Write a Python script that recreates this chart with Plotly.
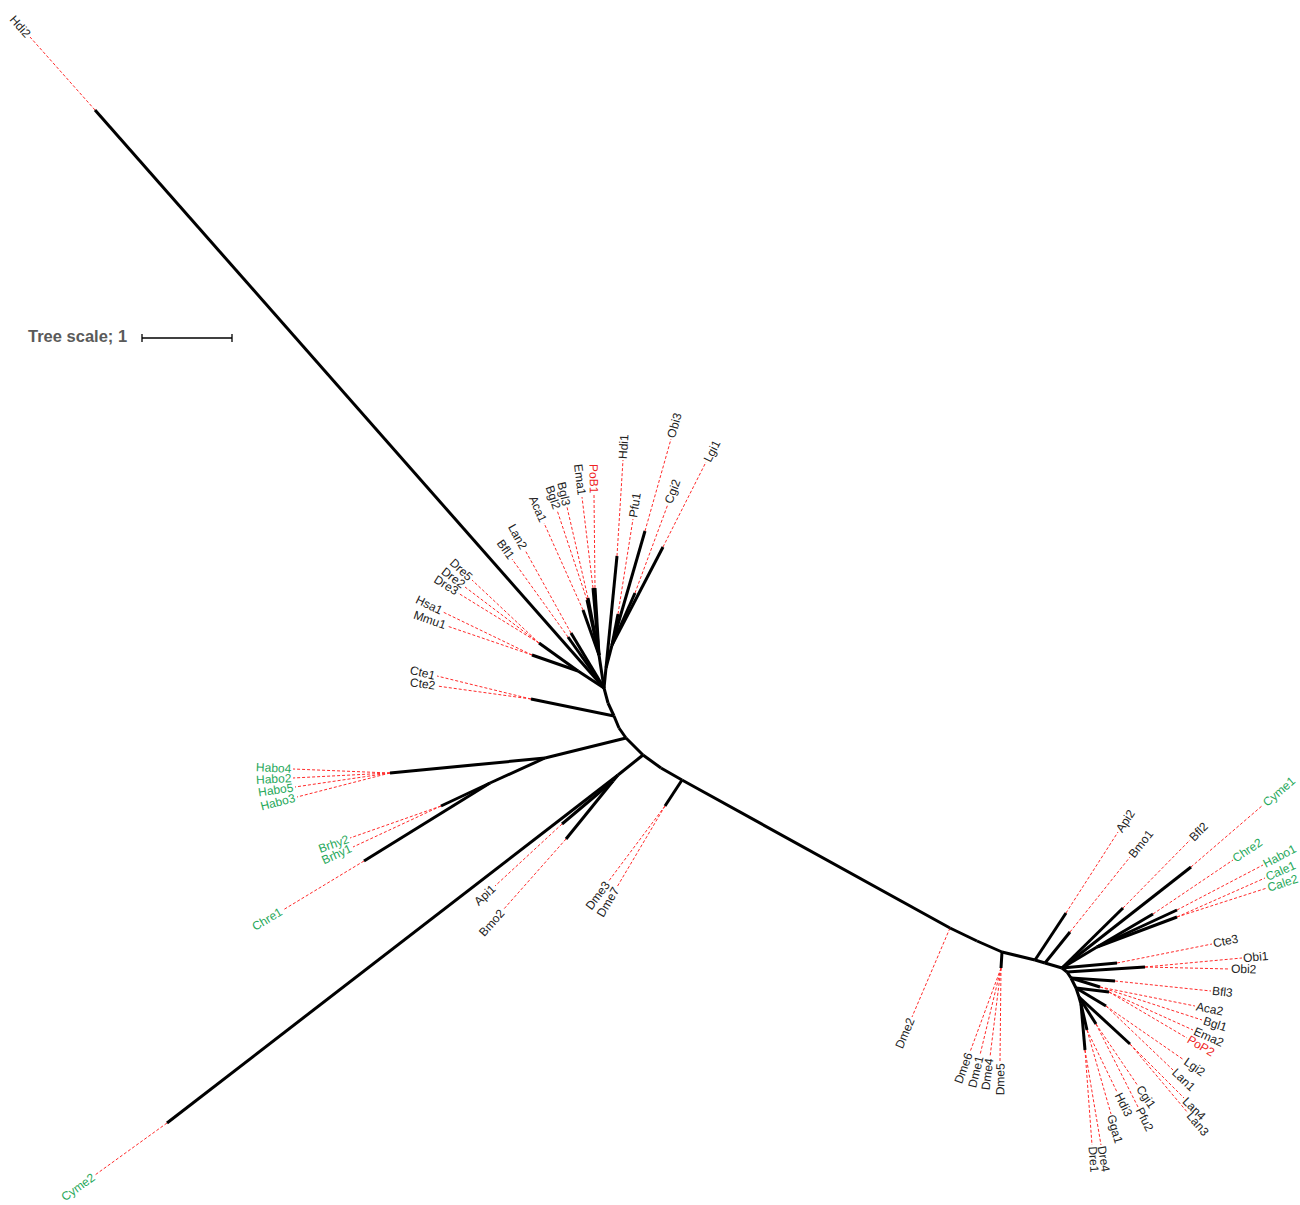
import math
import plotly.graph_objects as go

# ---------------- data (layout units; tree scale: 1 substitution/site = 90 units) -------------
scale_value = 1
scale_units = 90

# internal nodes
node_names = ["U", "B0a", "B1", "B1a", "B2", "B3", "B3a", "B4", "B5", "B5a", "B6",
              "R1", "R2", "R3", "R3b", "R4", "R5", "R6", "R7",
              "UR", "URa", "ULa", "D", "DreN", "HMN", "CteN",
              "L", "HaboN", "LB", "BrhyN", "C1", "C2", "DmeA", "DmeB",
              "RCa", "CaleN", "Obi", "AB", "EP", "LL", "L34", "CP", "HG", "AC"]
node_x = [604, 608, 614, 619, 626, 643, 661, 682, 950, 977, 1002,
          1035, 1045, 1062, 1067, 1071, 1076, 1079, 1081,
          606, 612, 599, 578, 539, 532, 531,
          545, 390, 490, 441, 618, 613, 665, 1001,
          1097, 1177, 1145, 1109, 1106, 1130, 1096, 1087, 1085, 1100]
node_y = [688, 703, 716, 728, 738, 755, 768, 780, 928, 941, 952,
          960, 963, 968, 972, 978, 988, 997, 1004,
          668, 645, 655, 671, 643, 655, 699,
          758, 773, 783, 806, 775, 781, 806, 968,
          947, 917, 967, 992, 1006, 1044, 1024, 1030, 1050, 987]
node_parent = [None, "U", "B0a", "B1", "B1a", "B2", "B3", "B3a", "B4", "B5", "B5a",
               "B6", "R1", "R2", "R3", "R3b", "R4", "R5", "R6",
               "U", "UR", "U", "U", "D", "D", "B1",
               "B2", "L", "L", "LB", "B3", "C1", "B4", "B6",
               "R3", "RCa", "R3b", "R5", "R5", "R6", "R6", "R7", "R7", "R4"]

# leaves
leaf_names = ["Hdi2", "Hdi1", "Pfu1", "Cgi2", "Obi3", "Lgi1",
              "Bfl1", "Lan2", "Aca1", "Bgl2", "Bgl3", "Ema1", "PoB1",
              "Dre5", "Dre2", "Dre3", "Hsa1", "Mmu1", "Cte1", "Cte2",
              "Habo4", "Habo2", "Habo5", "Habo3", "Brhy2", "Brhy1", "Chre1",
              "Cyme2", "Api1", "Bmo2", "Dme3", "Dme7", "Dme2",
              "Dme6", "Dme1", "Dme4", "Dme5",
              "Api2", "Bmo1", "Bfl2", "Cyme1", "Chre2", "Habo1", "Cale1", "Cale2",
              "Cte3", "Obi1", "Obi2", "Bfl3", "Aca2", "Bgl1", "Ema2", "PoP2",
              "Lgi2", "Lan1", "Lan4", "Lan3", "Cgi1", "Pfu2", "Hdi3", "Gga1", "Dre4", "Dre1"]
leaf_parent = ["U", "UR", "URa", "URa", "URa", "URa",
               "U", "U", "ULa", "ULa", "ULa", "ULa", "ULa",
               "DreN", "DreN", "DreN", "HMN", "HMN", "CteN", "CteN",
               "HaboN", "HaboN", "HaboN", "HaboN", "BrhyN", "BrhyN", "LB",
               "C1", "C2", "C2", "DmeA", "DmeA", "B5",
               "DmeB", "DmeB", "DmeB", "DmeB",
               "R1", "R2", "R3", "R3", "RCa", "RCa", "CaleN", "CaleN",
               "R3", "Obi", "Obi", "R4", "AC", "AC", "AB", "AB",
               "EP", "EP", "LL", "LL", "L34", "L34", "CP", "CP", "HG", "HG"]
# end of solid branch (None = zero length, at parent)
leaf_x = [95, 617, 618, 635, 645, 663,
          568, 571, 583, 587, 588, 593, 595,
          None, None, None, None, None, None, None,
          None, None, None, None, None, None, 364,
          167, 562, 566, None, None, None,
          None, None, None, None,
          1066, 1070, 1123, 1191, 1153, 1177, None, None,
          1117, None, None, 1115, None, None, None, None,
          None, None, None, None, None, None, None, None, None, None]
leaf_y = [110, 556, 614, 593, 531, 547,
          637, 633, 610, 600, 598, 588, 588,
          None, None, None, None, None, None, None,
          None, None, None, None, None, None, 861,
          1123, 824, 839, None, None, None,
          None, None, None, None,
          913, 932, 908, 867, 914, 910, None, None,
          963, None, None, 981, None, None, None, None,
          None, None, None, None, None, None, None, None, None, None]
# end of the dotted label connector
tip_x = [30, 623, 633, 668, 671, 706,
         512, 525, 544, 557, 567, 582, 594,
         472, 465, 458, 443, 447, 437, 437,
         293, 293, 295, 297, 350, 353, 283,
         95, 495, 503, 608, 617, 912,
         970, 980, 990, 1000,
         1118, 1130, 1190, 1263, 1233, 1263, 1265, 1267,
         1212, 1242, 1230, 1211, 1195, 1202, 1193, 1187,
         1184, 1173, 1184, 1188, 1138, 1138, 1117, 1111, 1101, 1092]
tip_y = [37, 460, 519, 504, 439, 462,
         559, 550, 523, 510, 507, 497, 495,
         580, 587, 593, 612, 626, 676, 686,
         769, 778, 787, 797, 838, 847, 910,
         1175, 886, 910, 882, 887, 1017,
         1052, 1055, 1057, 1062,
         832, 857, 840, 805, 860, 865, 878, 888,
         944, 958, 969, 991, 1006, 1020, 1030, 1038,
         1060, 1070, 1098, 1113, 1086, 1107, 1092, 1114, 1145, 1145]
green_leaves = ["Habo1", "Habo2", "Habo3", "Habo4", "Habo5", "Brhy1", "Brhy2",
                "Chre1", "Chre2", "Cyme1", "Cyme2", "Cale1", "Cale2"]
red_leaves = ["PoB1", "PoP2"]

# ---------------- build ----------------
pos = {n: (x, y) for n, x, y in zip(node_names, node_x, node_y)}

sx, sy = [], []
for n, p in zip(node_names, node_parent):
    if p is None:
        continue
    sx += [pos[p][0], pos[n][0], None]
    sy += [pos[p][1], pos[n][1], None]

dx, dy = [], []
leaf_end = []
for i, name in enumerate(leaf_names):
    px, py = pos[leaf_parent[i]]
    if leaf_x[i] is not None:
        ex, ey = leaf_x[i], leaf_y[i]
        sx += [px, ex, None]
        sy += [py, ey, None]
    else:
        ex, ey = px, py
    leaf_end.append((ex, ey))
    dx += [ex, tip_x[i], None]
    dy += [ey, tip_y[i], None]

W = {'A': 667, 'B': 667, 'C': 722, 'D': 722, 'E': 667, 'G': 778, 'H': 722, 'L': 556,
     'M': 833, 'O': 778, 'P': 667, 'a': 556, 'b': 556, 'c': 500, 'd': 556, 'e': 556,
     'f': 278, 'g': 556, 'h': 556, 'i': 222, 'l': 222, 'm': 833, 'n': 556, 'o': 556,
     'p': 556, 'r': 333, 's': 500, 't': 278, 'u': 556, 'y': 500}
FS = 12


def text_w(s):
    return sum(W.get(c, 556) for c in s) / 1000 * FS


annotations = []
for i, name in enumerate(leaf_names):
    ex, ey = leaf_end[i]
    tx, ty = tip_x[i], tip_y[i]
    vx, vy = tx - ex, ty - ey
    d = math.hypot(vx, vy)
    ux, uy = vx / d, vy / d
    ang = math.degrees(math.atan2(uy, ux))
    w = text_w(name)
    off = 1.5 + w / 2
    cx, cy = tx + ux * off, ty + uy * off
    ta = ang
    if ta > 90:
        ta -= 180
    elif ta < -90:
        ta += 180
    color = "#1fa85a" if name in green_leaves else ("#ee2222" if name in red_leaves else "#222222")
    annotations.append(dict(x=cx, y=cy, xref="x", yref="y", text=name, showarrow=False,
                            textangle=ta, xanchor="center", yanchor="middle",
                            font=dict(family="Arial, Liberation Sans, sans-serif", size=FS, color=color)))

# tree scale
bar_x0, bar_y = 142, 338
bar_x1 = bar_x0 + scale_value * scale_units
annotations.append(dict(x=129, y=336, xref="x", yref="y", text="<b>Tree scale; %d</b>" % scale_value,
                        showarrow=False, xanchor="right", yanchor="middle",
                        font=dict(family="Arial, Liberation Sans, sans-serif", size=16.5, color="#5a5a5a")))

fig = go.Figure()
fig.add_trace(go.Scatter(x=dx, y=dy, mode="lines", hoverinfo="skip",
                         line=dict(color="#ff2a2a", width=1, dash="3px,2px")))
fig.add_trace(go.Scatter(x=sx, y=sy, mode="lines", hoverinfo="skip",
                         line=dict(color="black", width=3)))
fig.add_trace(go.Scatter(x=[bar_x0, bar_x1, None, bar_x0, bar_x0, None, bar_x1, bar_x1],
                         y=[bar_y, bar_y, None, bar_y - 4, bar_y + 4, None, bar_y - 4, bar_y + 4],
                         mode="lines", hoverinfo="skip", line=dict(color="black", width=1.3)))

fig.update_layout(width=1300, height=1205, margin=dict(l=0, r=0, t=0, b=0),
                  paper_bgcolor="white", plot_bgcolor="white", showlegend=False,
                  annotations=annotations)
fig.update_xaxes(range=[0, 1300], visible=False, fixedrange=True)
fig.update_yaxes(range=[1205, 0], visible=False, fixedrange=True)
fig.write_html("out.html")
